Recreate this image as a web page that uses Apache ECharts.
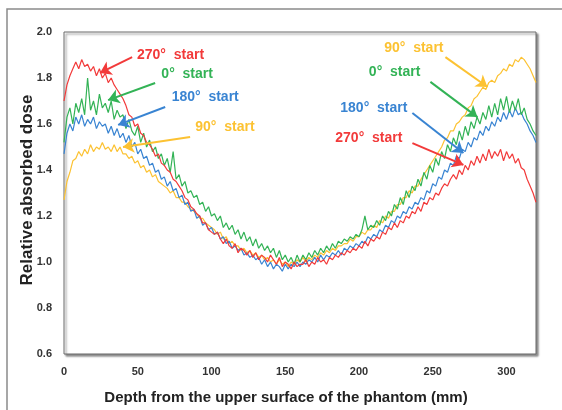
<!DOCTYPE html>
<html><head><meta charset="utf-8">
<script src="https://cdn.jsdelivr.net/npm/echarts@6/dist/echarts.min.js"></script>
<style>html,body{margin:0;padding:0;background:#fff}#c{width:562px;height:410px}</style>
</head><body><div id="c"></div>
<script>
// depth (mm), step 2 mm from 0 to 320
const depth = [];
for (let d = 0; d <= 320; d += 2) depth.push(d);

const red270 = [1.70,1.77,1.81,1.84,1.87,1.84,1.88,1.85,1.86,1.83,1.85,1.81,1.84,1.80,1.82,1.78,1.80,1.77,1.75,1.73,1.71,
 1.68,1.64,1.63,1.59,1.60,1.56,1.55,1.52,1.51,1.49,1.46,1.47,1.43,1.42,1.40,1.39,1.36,1.35,1.33,1.31,1.28,1.27,1.24,1.23,1.21,1.20,1.17,1.17,1.14,1.13,
 1.12,1.13,1.10,1.08,1.10,1.07,1.06,1.08,1.04,1.06,1.05,1.03,1.05,1.02,1.04,1.01,1.03,1.02,1.00,1.03,1.01,0.99,1.02,0.98,1.00,0.99,0.97,1.00,0.98,0.99,
 0.99,1.01,0.98,1.00,0.99,1.02,1.00,1.01,0.99,1.02,1.01,1.03,1.02,1.04,1.03,1.05,1.04,1.06,1.05,1.07,1.06,1.09,1.07,1.10,1.09,1.11,1.10,1.13,1.12,1.15,
 1.14,1.17,1.15,1.18,1.17,1.20,1.19,1.22,1.21,1.24,1.22,1.26,1.25,1.28,1.27,1.30,1.29,1.32,1.34,1.33,1.36,1.38,1.36,1.40,1.38,1.42,1.40,1.44,1.42,1.46,
 1.43,1.47,1.44,1.49,1.45,1.48,1.46,1.49,1.44,1.48,1.45,1.47,1.43,1.45,1.41,1.40,1.36,1.33,1.30,1.26];
const green0 = [1.52,1.63,1.67,1.60,1.69,1.65,1.71,1.64,1.80,1.66,1.70,1.64,1.73,1.67,1.69,1.65,1.70,1.62,1.66,1.63,1.64,
 1.58,1.62,1.57,1.55,1.59,1.52,1.56,1.50,1.53,1.48,1.50,1.45,1.47,1.42,1.45,1.39,1.48,1.36,1.38,1.33,1.35,1.30,1.31,1.28,1.29,1.25,1.26,1.22,1.24,1.20,
 1.21,1.18,1.20,1.15,1.17,1.14,1.16,1.12,1.14,1.10,1.13,1.09,1.11,1.07,1.10,1.06,1.08,1.05,1.07,1.04,1.06,1.02,1.05,1.01,1.03,1.00,1.02,0.99,1.03,1.00,
 1.03,1.01,1.04,1.02,1.05,1.03,1.06,1.04,1.07,1.05,1.08,1.06,1.09,1.08,1.10,1.09,1.11,1.10,1.12,1.11,1.14,1.20,1.14,1.16,1.15,1.18,1.16,1.20,1.18,1.22,
 1.20,1.25,1.23,1.28,1.25,1.31,1.28,1.33,1.31,1.36,1.33,1.39,1.36,1.42,1.39,1.45,1.42,1.48,1.45,1.51,1.48,1.54,1.51,1.57,1.53,1.59,1.55,1.61,1.58,1.63,
 1.60,1.65,1.62,1.68,1.63,1.69,1.64,1.71,1.66,1.72,1.65,1.70,1.66,1.71,1.64,1.67,1.62,1.60,1.57,1.55];
const blue180 = [1.47,1.56,1.60,1.57,1.63,1.60,1.64,1.59,1.62,1.60,1.63,1.58,1.61,1.59,1.60,1.56,1.59,1.55,1.58,1.54,1.56,
 1.52,1.55,1.50,1.52,1.47,1.49,1.45,1.46,1.42,1.43,1.39,1.40,1.36,1.37,1.33,1.35,1.31,1.32,1.28,1.29,1.25,1.26,1.22,1.23,1.19,1.20,1.16,1.17,1.14,1.15,
 1.12,1.13,1.10,1.11,1.08,1.09,1.06,1.07,1.05,1.06,1.03,1.04,1.02,1.03,1.01,1.02,0.99,1.01,0.98,1.00,0.97,0.99,0.98,0.96,0.99,0.97,0.99,0.98,1.00,0.98,
 1.00,0.99,1.01,1.00,1.02,1.00,1.03,1.01,1.03,1.02,1.04,1.03,1.05,1.03,1.06,1.05,1.07,1.06,1.08,1.07,1.09,1.08,1.11,1.10,1.12,1.11,1.14,1.13,1.16,1.15,
 1.18,1.17,1.20,1.19,1.22,1.21,1.24,1.23,1.26,1.25,1.28,1.27,1.31,1.30,1.34,1.33,1.37,1.36,1.40,1.39,1.43,1.42,1.46,1.45,1.49,1.48,1.52,1.50,1.54,1.53,
 1.57,1.55,1.59,1.57,1.61,1.59,1.63,1.61,1.65,1.62,1.66,1.63,1.67,1.64,1.65,1.62,1.60,1.57,1.55,1.52];
const yellow90 = [1.27,1.35,1.39,1.44,1.45,1.48,1.46,1.49,1.47,1.51,1.48,1.50,1.49,1.52,1.49,1.50,1.48,1.51,1.48,1.50,1.47,
 1.47,1.45,1.46,1.43,1.44,1.41,1.42,1.39,1.40,1.37,1.38,1.35,1.34,1.33,1.32,1.30,1.31,1.28,1.28,1.26,1.26,1.24,1.23,1.22,1.21,1.19,1.19,1.17,1.16,1.15,
 1.14,1.12,1.13,1.10,1.11,1.08,1.09,1.07,1.07,1.05,1.06,1.04,1.05,1.03,1.04,1.02,1.03,1.01,1.02,1.00,1.01,0.99,1.01,0.99,1.00,0.98,1.00,0.99,1.01,1.00,
 1.02,1.00,1.02,1.01,1.03,1.02,1.04,1.03,1.05,1.04,1.06,1.05,1.07,1.07,1.08,1.08,1.10,1.09,1.11,1.11,1.13,1.12,1.14,1.14,1.16,1.15,1.18,1.17,1.20,1.19,
 1.22,1.22,1.25,1.25,1.28,1.28,1.31,1.30,1.33,1.33,1.36,1.38,1.40,1.42,1.44,1.46,1.48,1.50,1.53,1.54,1.57,1.57,1.60,1.61,1.63,1.64,1.67,1.68,1.71,1.72,
 1.74,1.76,1.75,1.78,1.79,1.78,1.81,1.82,1.84,1.83,1.86,1.85,1.88,1.87,1.89,1.88,1.86,1.84,1.81,1.78];

const xTicks = [0, 50, 100, 150, 200, 250, 300];
const yTicks = [0.6, 0.8, 1.0, 1.2, 1.4, 1.6, 1.8, 2.0];

const colors = { red: '#f23a3a', green: '#33b356', blue: '#3984d2', yellow: '#fcc232' };

// annotations: [text, color, text anchor (data), arrow start (data), arrow tip (data), align]
const notes = [
  ['270°  start', colors.red,    [49.5, 1.900], [46.2, 1.891], [24.4, 1.822], 'left'],
  ['0°  start',   colors.green,  [66.0, 1.817], [61.8, 1.778], [29.9, 1.704], 'left'],
  ['180°  start', colors.blue,   [73.0, 1.717], [68.6, 1.674], [36.7, 1.596], 'left'],
  ['90°  start',  colors.yellow, [89.0, 1.587], [85.5, 1.543], [40.0, 1.500], 'left'],
  ['90°  start',  colors.yellow, [257.3, 1.930], [258.6, 1.891], [287.1, 1.761], 'right'],
  ['0°  start',   colors.green,  [241.6, 1.826], [248.4, 1.783], [280.3, 1.630], 'right'],
  ['180°  start', colors.blue,   [232.8, 1.670], [236.2, 1.648], [270.8, 1.474], 'right'],
  ['270°  start', colors.red,    [229.4, 1.539], [236.2, 1.517], [270.8, 1.422], 'right']
];

function pairs(arr) { return depth.map((d, i) => [d, arr[i]]); }
function arrowsFor(color) {
  return notes.filter(n => n[1] === color).map(n => [ { coord: n[3] }, { coord: n[4] } ]);
}
function mkSeries(name, arr, color) {
  return {
    name, type: 'line', data: pairs(arr), showSymbol: false, symbol: 'none',
    lineStyle: { color, width: 1.2 }, animation: false, z: 2,
    markLine: {
      silent: true, animation: false, symbol: ['none', 'arrow'], symbolSize: 11,
      label: { show: false },
      lineStyle: { color, width: 2, type: 'solid' },
      itemStyle: { color },
      data: arrowsFor(color)
    }
  };
}

const chart = echarts.init(document.getElementById('c'), null, { renderer: 'canvas' });
const font = 'Liberation Sans, Arial, sans-serif';
chart.setOption({
  animation: false,
  grid: {
    left: 64, top: 32, right: 26, bottom: 56, show: true,
    borderColor: '#6a6a6a', borderWidth: 1, backgroundColor: '#fff',
    shadowColor: 'rgba(0,0,0,0.45)', shadowBlur: 2, shadowOffsetX: 2, shadowOffsetY: 2
  },
  xAxis: {
    type: 'value', min: 0, max: 320, interval: 50,
    axisLine: { show: false }, axisTick: { show: false }, splitLine: { show: false },
    axisLabel: {
      margin: 12, color: '#333', fontSize: 11, fontWeight: 'bold', fontFamily: font,
      showMaxLabel: false,
      formatter: v => (xTicks.indexOf(v) >= 0 ? String(v) : '')
    }
  },
  yAxis: {
    type: 'value', min: 0.6, max: 2.0, interval: 0.2,
    axisLine: { show: false }, axisTick: { show: false }, splitLine: { show: false },
    axisLabel: {
      margin: 12, color: '#333', fontSize: 11, fontWeight: 'bold', fontFamily: font,
      formatter: v => {
        const t = yTicks.find(y => Math.abs(y - v) < 1e-6);
        return t === undefined ? '' : t.toFixed(1);
      }
    }
  },
  series: [
    mkSeries('90° start', yellow90, colors.yellow),
    mkSeries('180° start', blue180, colors.blue),
    mkSeries('0° start', green0, colors.green),
    mkSeries('270° start', red270, colors.red)
  ]
});

const g = [
  { type: 'rect', shape: { x: 7, y: 9, width: 700, height: 600 }, style: { fill: 'none', stroke: '#8a8a8a', lineWidth: 1.5 }, z: 0, silent: true },
  { type: 'text', x: 286, y: 398, style: { text: 'Depth from the upper surface of the phantom (mm)', fill: '#222', font: 'bold 15px ' + font, textAlign: 'center', textVerticalAlign: 'middle' }, z: 10 },
  { type: 'text', x: 27, y: 190, rotation: Math.PI / 2, style: { text: 'Relative absorbed dose', fill: '#222', font: 'bold 17px ' + font, textAlign: 'center', textVerticalAlign: 'middle' }, z: 10 }
];
notes.forEach(n => {
  const p = chart.convertToPixel({ gridIndex: 0 }, n[2]);
  g.push({ type: 'text', x: p[0], y: p[1], style: { text: n[0], fill: n[1], font: 'bold 14px ' + font, textAlign: n[5], textVerticalAlign: 'middle' }, z: 10 });
});
chart.setOption({ graphic: g });
</script></body></html>
